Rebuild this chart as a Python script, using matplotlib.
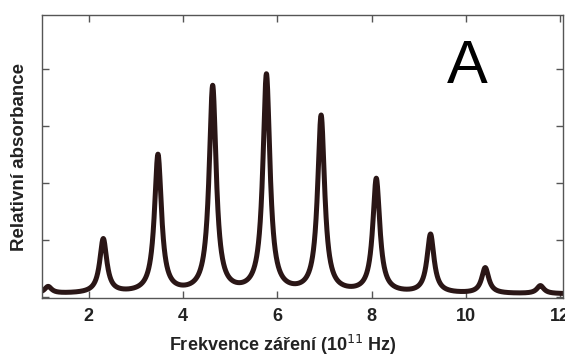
import numpy as np
import matplotlib.pyplot as plt

# peak positions (10^11 Hz), peak heights (relative), from the picture
pozice = [1.14, 2.31, 3.47, 4.63, 5.77, 6.93, 8.10, 9.25, 10.41, 11.58]
vysky = [0.12, 0.95, 2.42, 3.62, 3.82, 3.10, 2.00, 1.03, 0.45, 0.14]
pozadi = 0.05
sirka = 0.09

plt.rcParams['font.family'] = ['Liberation Sans', 'DejaVu Sans']

x = np.linspace(1.0, 12.2, 3000)
y = np.full_like(x, pozadi)
for p, h in zip(pozice, vysky):
    y += h * sirka**2 / ((x - p)**2 + sirka**2)

fig = plt.figure(figsize=(5.65, 3.6), dpi=100)
ax = fig.add_axes([0.0743, 0.1722, 0.9222, 0.7861])

ax.plot(x, y, color="#2a1616", linewidth=3.6, solid_capstyle="round")

ax.set_xlim(1.01, 12.06)
ax.set_ylim(-0.02, 4.95)
ax.set_xticks([2, 4, 6, 8, 10, 12])
ax.set_yticks([0, 1, 2, 3, 4])
ax.set_yticklabels([])
ax.tick_params(direction="in", length=5, width=1, color="#555555",
               top=True, right=True, labelsize=13, labelcolor="#222222", pad=7)
for lbl in ax.get_xticklabels():
    lbl.set_fontweight("bold")
for s in ax.spines.values():
    s.set_color("#555555")
    s.set_linewidth(1)

ax.set_xlabel("Frekvence záření (10$^{11}$ Hz)", fontsize=13,
              fontweight="bold", color="#222222", labelpad=6)
ax.xaxis.label.set_x(0.463)
ax.set_ylabel("Relativní absorbance", fontsize=13.5,
              fontweight="bold", color="#222222", labelpad=3)

ax.text(10.02, 4.03, "A", fontsize=44, ha="center", va="center", color="black")

fig.savefig("out.png", dpi=100)
